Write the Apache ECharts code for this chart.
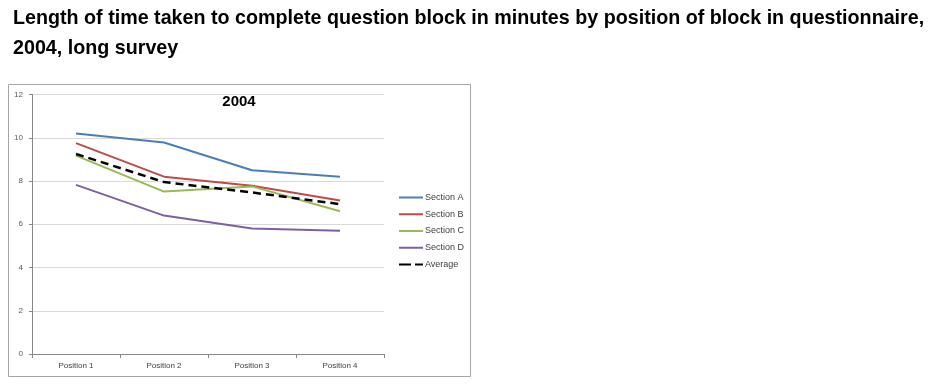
<!DOCTYPE html>
<html><head><meta charset="utf-8">
<script src="https://cdn.jsdelivr.net/npm/echarts@6/dist/echarts.min.js"></script>
<style>html,body{margin:0;padding:0;background:#fff}#c{width:937px;height:392px}</style>
</head><body><div id="c"></div>
<script>
const categories = ['Position 1', 'Position 2', 'Position 3', 'Position 4'];
const sectionA = [10.2, 9.78, 8.5, 8.2];
const sectionB = [9.75, 8.2, 7.78, 7.1];
const sectionC = [9.17, 7.51, 7.75, 6.6];
const sectionD = [7.82, 6.4, 5.8, 5.7];
const average = [9.25, 7.95, 7.47, 6.93];
const seriesNames = ['Section A', 'Section B', 'Section C', 'Section D', 'Average'];
const colors = ['#4a7ebb', '#be4b48', '#98b954', '#7d60a0', '#000000'];
const values = [sectionA, sectionB, sectionC, sectionD, average];

const solidIcon = 'path://M0,0h24v2h-24z';
const dashIcon = 'path://M0,0h12v2h-12z M16,0h8v2h-8z';

const chart = echarts.init(document.getElementById('c'), null, {renderer: 'canvas'});
chart.setOption({
  animation: false,
  title: [{
    text: 'Length of time taken to complete question block in minutes by position of block in questionnaire,\n2004, long survey',
    left: 8, top: -1,
    textStyle: {fontFamily: 'Liberation Sans', fontWeight: 'bold', fontSize: 19.7, lineHeight: 30, color: '#000'}
  }],
  graphic: [{
    type: 'rect', shape: {x: 8.5, y: 84.5, width: 462, height: 292},
    style: {fill: 'none', stroke: '#a6a6a6', lineWidth: 1}, z: -1
  }, {
    type: 'text', x: 239, y: 102,
    style: {text: '2004', align: 'center', verticalAlign: 'middle', fontFamily: 'Liberation Sans', fontWeight: 'bold', fontSize: 15, fill: '#000'}
  }],
  legend: {
    orient: 'vertical', left: 394, top: 188, itemGap: 7.75, itemWidth: 24, itemHeight: 2,
    data: seriesNames.map((n, i) => ({name: n, icon: i === 4 ? dashIcon : solidIcon, itemStyle: {color: colors[i], borderWidth: 0}})),
    textStyle: {fontFamily: 'Liberation Sans', fontSize: 9, color: '#404040', padding: [0,0,0,-3]}
  },
  grid: {left: 32, right: 553, top: 94.5, bottom: 38},
  xAxis: {
    type: 'category', data: categories, boundaryGap: true,
    axisLine: {lineStyle: {color: '#868686'}},
    axisTick: {show: true, length: 4, lineStyle: {color: '#868686'}},
    axisLabel: {fontFamily: 'Liberation Sans', fontSize: 8, color: '#404040', margin: 8}
  },
  yAxis: {
    type: 'value', min: 0, max: 12, interval: 2,
    axisLine: {show: true, lineStyle: {color: '#868686'}},
    axisTick: {show: true, length: 3, lineStyle: {color: '#868686'}},
    axisLabel: {fontFamily: 'Liberation Sans', fontSize: 8, color: '#595959', margin: 9},
    splitLine: {lineStyle: {color: '#d9d9d9'}}
  },
  series: values.map((v, i) => ({
    name: seriesNames[i], type: 'line', data: v, symbol: 'none',
    lineStyle: {color: colors[i], width: i === 4 ? 2.5 : 2, type: i === 4 ? [8, 5] : 'solid'},
    itemStyle: {color: colors[i]},
    z: i === 4 ? 3 : 2
  }))
});
</script></body></html>
